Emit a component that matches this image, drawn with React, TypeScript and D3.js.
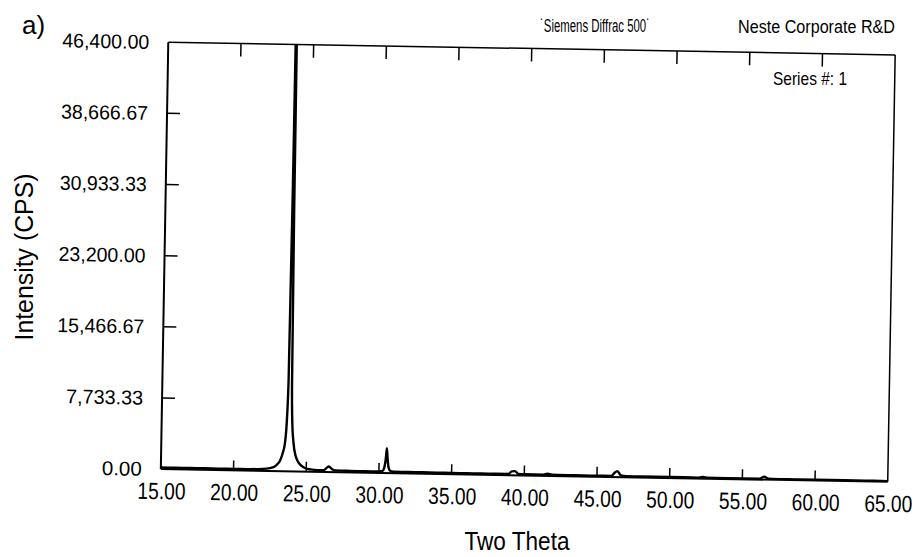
import React from "react";
import * as d3 from "d3";

// diffractogram
const twoTheta = [
  15.0, 16.0, 17.0, 18.0, 19.0, 20.0, 21.0, 22.0, 22.5, 22.8, 23.0, 23.2, 23.35, 23.5, 23.62,
  23.68, 23.74, 23.8, 23.86, 23.92, 23.98, 24.1, 24.25, 24.45, 24.65, 24.9, 25.3, 25.8, 26.2,
  26.4, 26.55, 26.75, 27.0, 28.0, 29.0, 30.0, 30.25, 30.38, 30.46, 30.52, 30.58, 30.66, 30.8,
  31.0, 32.0, 33.0, 34.0, 35.0, 36.0, 37.0, 38.0, 38.9, 39.15, 39.35, 39.6, 40.0, 41.3, 41.6,
  41.9, 43.0, 44.0, 45.0, 46.0, 46.2, 46.4, 46.65, 47.0, 48.0, 50.0, 52.0, 52.3, 52.6, 54.0,
  56.2, 56.5, 56.8, 58.0, 60.0, 62.0, 63.5, 64.0, 65.0,
];
const intensity = [
  180, 180, 170, 170, 160, 160, 170, 220, 320, 480, 750, 1200, 1900, 3000, 6000,
  10000, 30000, 70000, 28000, 9500, 5500, 3000, 1700, 1000, 650, 400, 250, 190, 190,
  450, 600, 350, 190, 170, 160, 160, 220, 700, 1600, 2700, 1600, 600, 220,
  160, 150, 150, 140, 140, 130, 130, 130, 140, 420, 450, 150, 130, 130, 230,
  130, 120, 120, 110, 120, 450, 650, 180, 120, 110, 110, 100, 180, 100, 90,
  100, 330, 120, 90, 80, 80, 90, 80, 80,
];

const xTicks = [15, 20, 25, 30, 35, 40, 45, 50, 55, 60, 65];
const yTicks = [0, 7733.33, 15466.67, 23200, 30933.33, 38666.67, 46400];

const narrow = "'Liberation Sans Narrow', 'Arial Narrow', 'Liberation Sans', Arial, sans-serif";
const regular = "'Liberation Sans', Arial, Helvetica, sans-serif";

export default function App() {
  const W = 924;
  const H = 557;
  const x0 = 164.5, x1 = 891.5, y0 = 48.5, y1 = 475.5;

  const x = d3.scaleLinear().domain([15, 65]).range([x0, x1]);
  const y = d3.scaleLinear().domain([0, 46400]).range([y1, y0]);

  const pts = twoTheta.map((t, i) => [t, intensity[i]] as [number, number]);
  const line = d3
    .line<[number, number]>()
    .x((d) => x(d[0]))
    .y((d) => y(d[1]))
    .curve(d3.curveMonotoneX);

  const fmt = d3.format(",.2f");

  return (
    <svg width={W} height={H} style={{ position: "absolute", left: 0, top: 0, background: "#fff" }}>
      <defs>
        <clipPath id="plot">
          <rect x={x0} y={y0} width={x1 - x0} height={y1 - y0} />
        </clipPath>
      </defs>

      <text x={22} y={34} fontFamily={regular} fontSize={26} fill="#000">a)</text>
      <text x={540} y={32} fontFamily={narrow} fontSize={17.5} textLength={110} lengthAdjust="spacingAndGlyphs">
        {"\u02D9Siemens Diffrac 500\u02D9"}
      </text>
      <text x={738} y={33} fontFamily={narrow} fontSize={17.5} textLength={157} lengthAdjust="spacingAndGlyphs">
        Neste Corporate R&amp;D
      </text>
      <text x={773} y={85} fontFamily={narrow} fontSize={18.5} textLength={74} lengthAdjust="spacingAndGlyphs">
        Series #: 1
      </text>

      {/* the scan sits about a degree off square */}
      <g transform="rotate(1 528 262)">
        <path d={line(pts) ?? ""} fill="none" stroke="#000" strokeWidth={2.4} clipPath="url(#plot)" />

        <line x1={x0} x2={x0} y1={y0} y2={y1} stroke="#000" strokeWidth={2} />
        <line x1={x1} x2={x1} y1={y0} y2={y1} stroke="#000" strokeWidth={1.5} />
        <line x1={x0} x2={x1} y1={y0} y2={y0} stroke="#000" strokeWidth={1.5} />
        <line x1={x0} x2={x1} y1={y1} y2={y1} stroke="#000" strokeWidth={2} />

        {xTicks.slice(1, -1).map((t) => (
          <g key={"xt" + t}>
            <line x1={x(t)} x2={x(t)} y1={y0} y2={y0 + 13} stroke="#000" strokeWidth={1.5} />
            <line x1={x(t)} x2={x(t)} y1={y1} y2={y1 - 10} stroke="#000" strokeWidth={1.5} />
          </g>
        ))}
        {xTicks.map((t) => (
          <text key={"xl" + t} x={x(t) + 1} y={y1 + 30} textAnchor="middle" fontFamily={narrow}
            fontSize={23.5} textLength={48} lengthAdjust="spacingAndGlyphs">
            {t.toFixed(2)}
          </text>
        ))}

        {yTicks.slice(1, -1).map((t) => (
          <line key={"yt" + t} x1={x0} x2={x0 + 13} y1={y(t)} y2={y(t)} stroke="#000" strokeWidth={1.5} />
        ))}
        {yTicks.map((t) => (
          <text key={"yl" + t} x={x0 - 19} y={y(t) + 7} textAnchor="end" fontFamily={regular} fontSize={20}
            textLength={fmt(t).length > 6 ? (fmt(t).length === 9 ? 87 : 77) : 40} lengthAdjust="spacingAndGlyphs">
            {fmt(t)}
          </text>
        ))}
      </g>

      <text transform="translate(33 257) rotate(-90)" textAnchor="middle" fontFamily={narrow} fontSize={26}
        textLength={167} lengthAdjust="spacingAndGlyphs">
        Intensity (CPS)
      </text>
      <text x={517} y={550} textAnchor="middle" fontFamily={narrow} fontSize={26} textLength={105}
        lengthAdjust="spacingAndGlyphs">
        Two Theta
      </text>
    </svg>
  );
}
